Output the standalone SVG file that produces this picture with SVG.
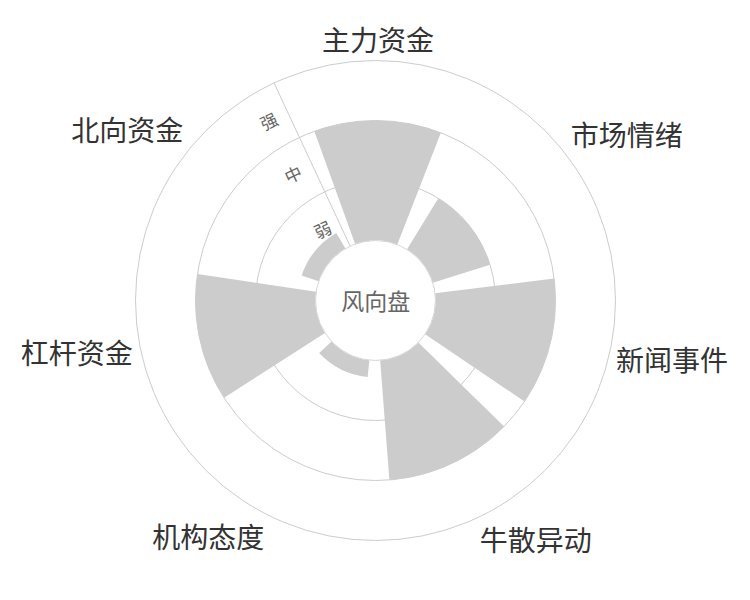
<svg xmlns="http://www.w3.org/2000/svg" width="750" height="600" viewBox="0 0 750 600">
  <style>
    .grid { fill: none; stroke: #cccccc; stroke-width: 1; }
    .bar { fill: #cccccc; stroke: none; }
    .cat { font-family: "Noto Sans CJK SC", "Noto Sans", sans-serif; font-size: 28px; fill: #333333; text-anchor: middle; }
    .lvl { font-family: "Noto Sans CJK SC", "Noto Sans", sans-serif; font-size: 17px; fill: #666666; text-anchor: middle; }
    .hub { font-family: "Noto Sans CJK SC", "Noto Sans", sans-serif; font-size: 23px; fill: #666666; text-anchor: middle; }
  </style>
  <rect x="0" y="0" width="750" height="600" fill="#ffffff"/>

  <g id="grid">
    <circle class="grid" cx="375.5" cy="300.5" r="240"/>
    <circle class="grid" cx="375.5" cy="300.5" r="180"/>
    <circle class="grid" cx="375.5" cy="300.5" r="120"/>
  </g>

  <g id="connectors">
    <line class="grid" x1="350.14" y1="246.12" x2="274.07" y2="82.99"/>
  </g>

  <g id="bar-zhuli">
    <path class="bar" d="M314.36,131.20 A180,180 0 0 1 440.85,132.78 L397.28,244.59 A60,60 0 0 0 355.12,244.07 Z"/>
  </g>
  <g id="bar-shichang">
    <path class="bar" d="M438.33,198.26 A120,120 0 0 1 490.08,264.84 L432.79,282.67 A60,60 0 0 0 406.91,249.38 Z"/>
  </g>
  <g id="bar-xinwen">
    <path class="bar" d="M554.16,278.56 A180,180 0 0 1 524.49,401.51 L425.16,334.17 A60,60 0 0 0 435.05,293.19 Z"/>
  </g>
  <g id="bar-niusan">
    <path class="bar" d="M504.04,426.51 A180,180 0 0 1 389.40,479.96 L380.13,360.32 A60,60 0 0 0 418.35,342.50 Z"/>
  </g>
  <g id="bar-jigou">
    <path class="bar" d="M367.64,377.10 A77,77 0 0 1 319.19,353.01 L331.62,341.42 A60,60 0 0 0 369.38,360.19 Z"/>
  </g>
  <g id="bar-ganggan">
    <path class="bar" d="M224.07,397.82 A180,180 0 0 1 197.44,274.12 L316.15,291.71 A60,60 0 0 0 325.02,332.94 Z"/>
  </g>
  <g id="bar-beixiang">
    <path class="bar" d="M301.62,275.47 A78,78 0 0 1 336.33,233.05 L345.37,248.61 A60,60 0 0 0 318.67,281.25 Z"/>
  </g>

  <g id="hub">
    <circle cx="375.5" cy="300.5" r="60" fill="#ffffff" stroke="#d6d6d6" stroke-width="1"/>
    <text class="hub" x="375.7" y="310.4">风向盘</text>
  </g>

  <g id="level-labels">
    <text class="lvl" transform="translate(322.7,230) rotate(-25)" y="6.4">弱</text>
    <text class="lvl" transform="translate(293.3,174.7) rotate(-25)" y="6.4">中</text>
    <text class="lvl" transform="translate(269,121.7) rotate(-25)" y="6.4">强</text>
  </g>

  <g id="category-labels">
    <text class="cat" x="378" y="51.4">主力资金</text>
    <text class="cat" x="626.7" y="146.4">市场情绪</text>
    <text class="cat" x="672" y="371.1">新闻事件</text>
    <text class="cat" x="535.8" y="551.4">牛散异动</text>
    <text class="cat" x="208.3" y="548.3">机构态度</text>
    <text class="cat" x="76.7" y="364.4">杠杆资金</text>
    <text class="cat" x="127.2" y="140.9">北向资金</text>
  </g>
</svg>
